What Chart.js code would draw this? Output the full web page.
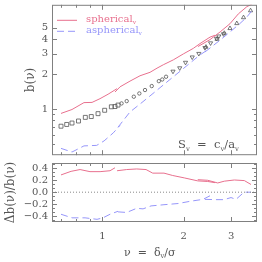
<!DOCTYPE html>
<html>
<head>
<meta charset="utf-8">
<script src="https://cdn.jsdelivr.net/npm/chart.js@4/dist/chart.umd.min.js"></script>
<style>
  html, body { margin: 0; padding: 0; background: #fff; }
  #wrap { position: relative; width: 262px; height: 262px; }
  canvas { position: absolute; left: 0; }
  #top { top: 0; }
  #bot { top: 160px; }
</style>
</head>
<body>
<div id="wrap">
  <canvas id="top" width="262" height="160"></canvas>
  <canvas id="bot" width="262" height="102"></canvas>
</div>
<script>
/* --- Data --------------------------------------------------------------- */
// top panel: b(nu), spherical model (solid, three overlapping pieces)
const sphNuA = [0.703, 0.772, 0.855, 0.916, 0.98, 1.05, 1.133];
const sphBA  = [0.916, 0.99, 1.135, 1.14, 1.227, 1.34, 1.497];
const sphNuB = [1.114, 1.163, 1.266, 1.379, 1.502, 1.594, 1.682, 1.832, 1.995, 2.173, 2.30, 2.505, 2.614];
const sphBB  = [1.40, 1.552, 1.738, 1.933, 2.07, 2.248, 2.405, 2.65, 2.98, 3.33, 3.66, 4.16, 4.32];
const sphNuC = [2.26, 2.505, 2.73, 2.97, 3.19, 3.43, 3.58];
const sphBC  = [3.45, 3.96, 4.61, 5.43, 6.6, 7.61, 8.0];

// top panel: aspherical model (dashed)
const aspNuA = [0.703, 0.772, 0.855, 0.953, 1.015, 1.098, 1.163];
const aspBA  = [0.458, 0.426, 0.481, 0.486, 0.531, 0.623, 0.722];
const aspNuB = [1.143, 1.266, 1.379, 1.502, 1.636, 1.781, 1.94, 2.113, 2.30, 2.505];
const aspBB  = [0.697, 0.943, 1.103, 1.296, 1.527, 1.796, 2.112, 2.488, 2.925, 3.334];
const aspNuC = [2.40, 2.73, 2.97, 3.228, 3.426, 3.625];
const aspBC  = [3.10, 3.92, 4.61, 5.43, 6.18, 7.27];

// top panel: measured points (four samples)
const sqNu = [0.703, 0.738, 0.772, 0.816, 0.865, 0.91, 0.964, 1.02, 1.08, 1.114, 1.143];
const sqB  = [0.711, 0.736, 0.757, 0.788, 0.847, 0.861, 0.912, 0.975, 1.045, 1.05, 1.081];
const ciNu = [1.178, 1.231, 1.308, 1.371, 1.439, 1.524, 1.619, 1.667, 1.722];
const ciB  = [1.117, 1.169, 1.276, 1.361, 1.457, 1.576, 1.738, 1.796, 1.896];
const tdNu = [1.827, 1.935, 2.033, 2.153, 2.277, 2.40, 2.517, 2.648, 2.70, 2.81];
const tdB  = [2.11, 2.256, 2.517, 2.797, 3.0, 3.37, 3.70, 4.05, 4.24, 4.43];
const tuNu = [2.42, 2.66, 2.83, 2.97, 3.148, 3.334, 3.54];
const tuB  = [3.42, 4.0, 4.50, 4.95, 5.46, 6.14, 7.04];

// bottom panel: relative difference
const dSphNuA = [0.703, 0.766, 0.827, 0.900, 0.981, 1.068, 1.114];
const dSphA   = [0.29, 0.35, 0.38, 0.345, 0.345, 0.36, 0.41];
const dSphNuB = [1.134, 1.231, 1.341, 1.452, 1.537, 1.692, 1.823, 2.012, 2.256, 2.457, 2.615];
const dSphB   = [0.36, 0.38, 0.39, 0.38, 0.32, 0.32, 0.28, 0.24, 0.19, 0.18, 0.16];
const dSphNuC = [2.256, 2.457, 2.676, 2.83, 3.083, 3.357, 3.553];
const dSphC   = [0.21, 0.20, 0.155, 0.185, 0.205, 0.195, 0.13];
const dAspNuA = [0.703, 0.772, 0.863, 0.956, 1.006, 1.068, 1.143];
const dAspA   = [-0.37, -0.43, -0.43, -0.455, -0.43, -0.37, -0.32];
const dAspNuB = [1.143, 1.231, 1.341, 1.415, 1.515, 1.692, 1.907, 2.131, 2.36, 2.505];
const dAspB   = [-0.33, -0.34, -0.27, -0.28, -0.23, -0.21, -0.19, -0.15, -0.12, -0.06];
const dAspNuC = [2.40, 2.637, 2.823, 2.997, 3.127, 3.349, 3.553];
const dAspC   = [-0.12, -0.125, -0.125, -0.09, -0.12, 0.0, 0.0];

// axes
const xMin = 0.651, xMax = 3.74;
const xTicks   = [0.7, 0.8, 0.9, 1, 2, 3];
const xLabeled = [1, 2, 3];
const bMin = 0.40, bMax = 7.9;
const bTicks   = [0.5, 0.6, 0.7, 0.8, 0.9, 1, 2, 3, 4, 5];
const bLabeled = [1, 2, 3, 4, 5];
const dMin = -0.50, dMax = 0.49;
const dTicks   = [-0.467, -0.4, -0.333, -0.267, -0.2, -0.133, -0.067, 0, 0.067, 0.133, 0.2, 0.267, 0.333, 0.4, 0.467];
const dLabeled = [-0.4, -0.2, 0, 0.2, 0.4];
const zeroNu = [xMin, xMax], zeroD = [0, 0];

const legendLabels = ['spherical', 'aspherical'];

/* --- Styles -------------------------------------------------------------- */
const PINK = 'rgb(232,112,142)';
const BLUE = 'rgb(150,150,250)';
const MARK = '#555';
const FRAME = '#808080';
const TXT = '#555';
const SERIF = '"DejaVu Serif", serif';

/* --- Helpers ------------------------------------------------------------- */
const pts = (xs, ys) => xs.map((x, i) => ({ x, y: ys[i] }));

function line(xs, ys, color, dash) {
  return { data: pts(xs, ys), showLine: true, borderColor: color, borderWidth: 1,
           borderDash: dash || [], pointRadius: 0, tension: 0 };
}
function marks(xs, ys, style, rot, r) {
  return { data: pts(xs, ys), showLine: false, pointStyle: style, pointRotation: rot,
           pointRadius: r, pointBorderColor: MARK, pointBackgroundColor: 'rgba(0,0,0,0)',
           pointBorderWidth: 0.8 };
}
function fixTicks(list) {
  return s => { s.ticks = list.map(v => ({ value: v })); };
}
// no extra room for half tick labels: the box sits exactly where the padding says
function noPad(size) {
  return s => {
    s.paddingTop = s.paddingBottom = s.paddingLeft = s.paddingRight = 0;
    if (s.isHorizontal()) s.height = size; else s.width = size;
  };
}
function subText(ctx, parts, x, y, size, color) {
  ctx.fillStyle = color;
  ctx.textBaseline = 'alphabetic';
  ctx.textAlign = 'left';
  parts.forEach(([t, sub]) => {
    const fs = sub ? size * 0.6 : size;
    ctx.font = fs + 'px ' + SERIF;
    ctx.fillText(t, x, y + (sub ? size * 0.22 : 0));
    x += ctx.measureText(t).width;
  });
}

// box with inward tick marks on all four sides
const frame = {
  id: 'frame',
  afterDatasetsDraw(chart, args, o) {
    const { ctx, chartArea: a, scales: { x, y } } = chart;
    ctx.save();
    ctx.strokeStyle = FRAME;
    ctx.lineWidth = 1;
    ctx.strokeRect(a.left + 0.5, a.top + 0.5, a.right - a.left - 1, a.bottom - a.top - 1);
    ctx.beginPath();
    x.ticks.forEach(t => {
      const px = Math.round(x.getPixelForValue(t.value)) + 0.5;
      const len = o.xMajor.includes(t.value) ? 5 : 3;
      ctx.moveTo(px, a.bottom); ctx.lineTo(px, a.bottom - len);
      ctx.moveTo(px, a.top);    ctx.lineTo(px, a.top + len);
    });
    y.ticks.forEach(t => {
      const py = Math.round(y.getPixelForValue(t.value)) + 0.5;
      const len = o.yMajor.includes(t.value) ? 5 : 3;
      ctx.moveTo(a.left, py);  ctx.lineTo(a.left + len, py);
      ctx.moveTo(a.right, py); ctx.lineTo(a.right - len, py);
    });
    ctx.stroke();
    ctx.restore();
  }
};

// legend with subscripted labels, top left inside the box
const keyPlugin = {
  id: 'key',
  afterDatasetsDraw(chart) {
    const { ctx, chartArea: a } = chart;
    const items = [[legendLabels[0], PINK, []], [legendLabels[1], BLUE, [7, 4]]];
    ctx.save();
    items.forEach(([label, color, dash], i) => {
      const yb = a.top + 17 + i * 11;
      ctx.strokeStyle = color; ctx.lineWidth = 1; ctx.setLineDash(dash);
      ctx.beginPath(); ctx.moveTo(a.left + 5, yb - 1.5); ctx.lineTo(a.left + 25, yb - 1.5); ctx.stroke();
      ctx.setLineDash([]);
      subText(ctx, [[label], ['v', true]], a.left + 34, yb, 10, color);
    });
    // s_v = c_v / a_v, bottom right
    subText(ctx, [['S'], ['v', true], ['  =  c'], ['v', true], ['/a'], ['v', true]],
            a.left + 126, a.bottom - 7, 11.5, TXT);
    ctx.restore();
  }
};

// x-axis title with subscript under the lower panel
const xTitle = {
  id: 'xTitle',
  afterDraw(chart) {
    const { ctx, chartArea: a } = chart;
    ctx.save();
    subText(ctx, [['\u03bd  =  \u03b4'], ['v', true], ['/\u03c3']], a.left + 72, a.bottom + 34, 11, TXT);
    ctx.restore();
  }
};

const tickFont = { family: SERIF, size: 10 };
const titleFont = { family: SERIF, size: 12 };

/* --- Top panel ----------------------------------------------------------- */
new Chart(document.getElementById('top'), {
  type: 'scatter',
  data: { datasets: [
    line(sphNuA, sphBA, PINK), line(sphNuB, sphBB, PINK), line(sphNuC, sphBC, PINK),
    line(aspNuA, aspBA, BLUE, [7, 4]), line(aspNuB, aspBB, BLUE, [7, 4]), line(aspNuC, aspBC, BLUE, [7, 4]),
    marks(sqNu, sqB, 'rect', 0, 2.8), marks(ciNu, ciB, 'circle', 0, 1.7),
    marks(tdNu, tdB, 'triangle', 180, 2.4), marks(tuNu, tuB, 'triangle', 0, 2.4)
  ]},
  options: {
    responsive: false, animation: false, devicePixelRatio: 1,
    layout: { padding: { top: 4, right: 5, bottom: 3, left: 0 } },
    plugins: { legend: { display: false }, tooltip: { enabled: false },
               frame: { xMajor: xLabeled, yMajor: bLabeled } },
    scales: {
      x: { type: 'logarithmic', min: xMin, max: xMax,
           grid: { display: false, drawTicks: false }, border: { display: false },
           ticks: { display: false }, afterBuildTicks: fixTicks(xTicks),
           afterFit: noPad(0) },
      y: { type: 'logarithmic', min: bMin, max: bMax,
           grid: { display: false, drawTicks: false }, border: { display: false },
           ticks: { font: tickFont, color: TXT, padding: 4, autoSkip: false,
                    callback: v => bLabeled.includes(v) ? String(v) : '' },
           afterBuildTicks: fixTicks(bTicks),
           title: { display: true, text: 'b(\u03bd)', font: titleFont, color: TXT, padding: { top: 24 } },
           afterFit: noPad(52) }
    }
  },
  plugins: [frame, keyPlugin]
});

/* --- Bottom panel -------------------------------------------------------- */
new Chart(document.getElementById('bot'), {
  type: 'scatter',
  data: { datasets: [
    line(zeroNu, zeroD, '#888', [1, 2]),
    line(dSphNuA, dSphA, PINK), line(dSphNuB, dSphB, PINK), line(dSphNuC, dSphC, PINK),
    line(dAspNuA, dAspA, BLUE, [7, 4]), line(dAspNuB, dAspB, BLUE, [7, 4]), line(dAspNuC, dAspC, BLUE, [7, 4])
  ]},
  options: {
    responsive: false, animation: false, devicePixelRatio: 1,
    layout: { padding: { top: 3, right: 5, bottom: 0, left: 0 } },
    plugins: { legend: { display: false }, tooltip: { enabled: false },
               frame: { xMajor: xLabeled, yMajor: dLabeled } },
    scales: {
      x: { type: 'logarithmic', min: xMin, max: xMax,
           grid: { display: false, drawTicks: false }, border: { display: false },
           ticks: { font: tickFont, color: TXT, padding: 8, autoSkip: false, maxRotation: 0,
                    callback: v => xLabeled.includes(v) ? String(v) : '' },
           afterBuildTicks: fixTicks(xTicks),
           afterFit: noPad(40) },
      y: { type: 'linear', min: dMin, max: dMax,
           grid: { display: false, drawTicks: false }, border: { display: false },
           ticks: { font: tickFont, color: TXT, padding: 4, autoSkip: false,
                    callback: v => dLabeled.includes(v) ? v.toFixed(1).replace('-', '\u2212') : '' },
           afterBuildTicks: fixTicks(dTicks),
           title: { display: true, text: '\u0394b(\u03bd)/b(\u03bd)', font: titleFont, color: TXT, padding: { top: 4 } },
           afterFit: noPad(52) }
    }
  },
  plugins: [frame, xTitle]
});
</script>
</body>
</html>
